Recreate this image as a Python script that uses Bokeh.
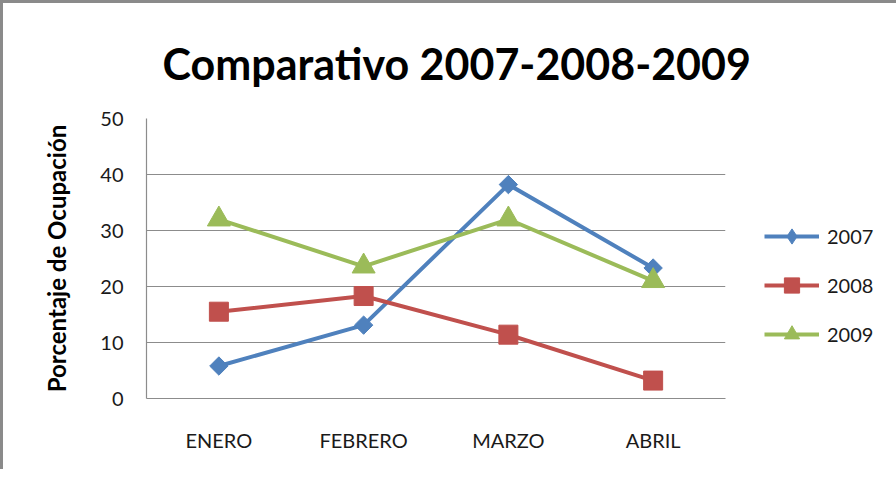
from bokeh.plotting import figure
from bokeh.models import Legend, LegendItem, FixedTicker, Title
from bokeh.embed import file_html
from bokeh.resources import INLINE

months = ["ENERO", "FEBRERO", "MARZO", "ABRIL"]
y2007 = [5.8, 13.1, 38.2, 23.3]
y2008 = [15.5, 18.3, 11.4, 3.2]
y2009 = [32.0, 23.6, 32.0, 21.0]
y_ticks = [0, 10, 20, 30, 40, 50]

FONT = "Lato"
p = figure(x_range=months, y_range=(0, 50), frame_width=579, frame_height=280,
           output_backend="svg", toolbar_location=None,
           min_border_left=143, min_border_right=154, min_border_top=115, min_border_bottom=71)
p.styles = {"border-left": "3px solid #8a8a8a", "border-top": "3px solid #8a8a8a"}
p.outline_line_color = None
p.x_range.range_padding = 0

t = Title(text="Comparativo 2007-2008-2009", align="left", offset=16,
          text_font=FONT, text_font_size="43px", text_font_style="bold",
          text_color="black", standoff=60, text_line_height=0.9)
p.add_layout(t, "above")

p.xgrid.grid_line_color = None
p.ygrid.grid_line_color = "#8c8c8c"
p.ygrid.grid_line_width = 1.2
p.yaxis.ticker = FixedTicker(ticks=y_ticks)
for ax in (p.xaxis[0], p.yaxis[0]):
    ax.axis_line_color = "#8c8c8c"
    ax.axis_line_width = 1.2
    ax.major_tick_line_color = None
    ax.minor_tick_line_color = None
    ax.major_label_text_font = FONT
    ax.major_label_text_font_size = "20px"
    ax.major_label_text_color = "#1a1a1a"
p.yaxis.major_label_standoff = 17
p.xaxis.major_label_standoff = 23
p.yaxis.axis_label = "Porcentaje de Ocupación"
p.yaxis.axis_label_text_font = FONT
p.yaxis.axis_label_text_font_size = "24px"
p.yaxis.axis_label_text_font_style = "bold"
p.yaxis.axis_label_text_color = "black"
p.yaxis.axis_label_standoff = 26

blue, red, green = "#4F81BD", "#C0504D", "#9BBB59"
l1 = p.line(months, y2007, color=blue, line_width=4)
m1 = p.scatter(months, y2007, marker="square", size=13, angle=0.785398, color=blue)
k1 = p.scatter(months, y2007, marker="diamond", size=20, color=blue, visible=False)  # legend key
l2 = p.line(months, y2008, color=red, line_width=4)
m2 = p.scatter(months, y2008, marker="square", size=19, color=red)
l3 = p.line(months, y2009, color=green, line_width=4)
m3 = p.scatter(months, y2009, marker="triangle", size=23, color=green)

legend = Legend(items=[LegendItem(label="2007", renderers=[l1, k1]),
                       LegendItem(label="2008", renderers=[l2, m2]),
                       LegendItem(label="2009", renderers=[l3, m3])],
                location="top_left", orientation="vertical",
                title=" ", title_text_font_size="10px", title_standoff=49,
                glyph_width=55, glyph_height=38, label_height=20, spacing=11,
                padding=0, margin=39, label_standoff=8,
                label_text_font=FONT, label_text_font_size="20px", label_text_color="#1a1a1a",
                border_line_color=None, background_fill_alpha=0,
                inactive_fill_alpha=0)
p.add_layout(legend, "right")

open("out.html", "w").write(file_html(p, INLINE))
